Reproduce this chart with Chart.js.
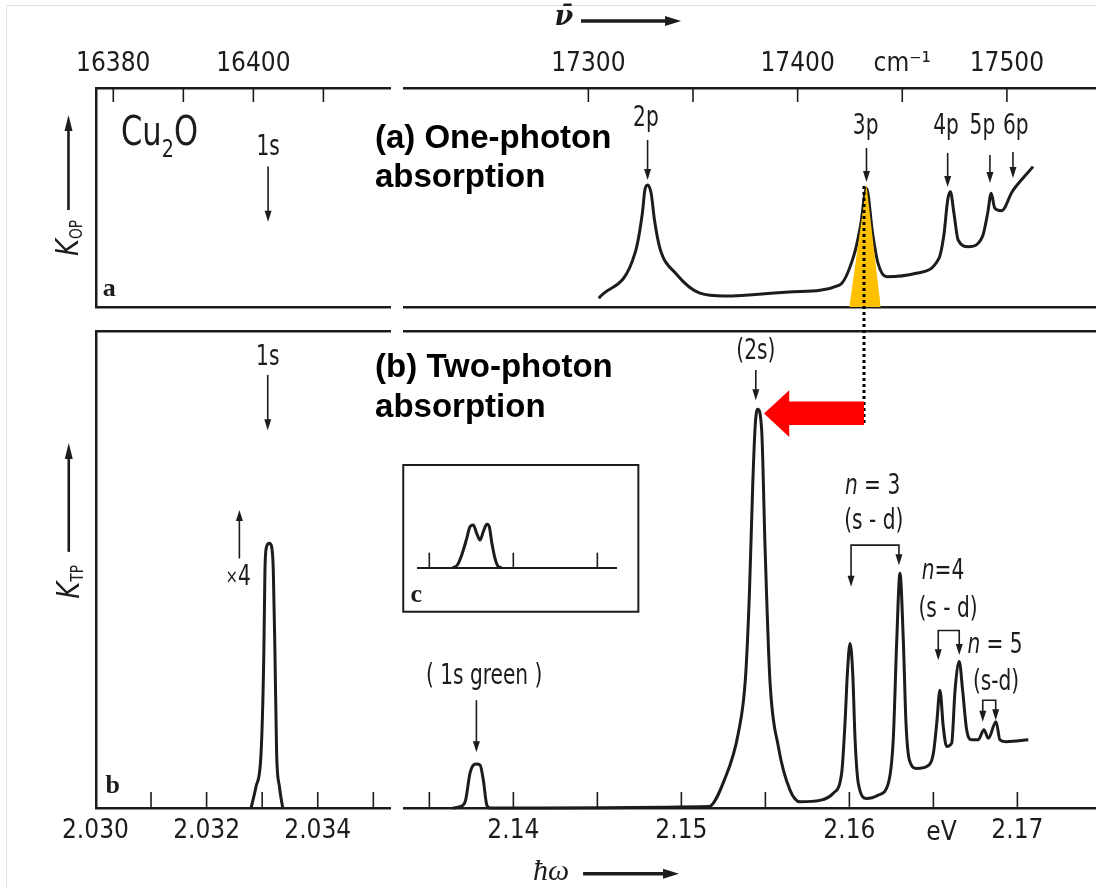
<!DOCTYPE html>
<html>
<head>
<meta charset="utf-8">
<script src="https://cdn.jsdelivr.net/npm/chart.js@4/dist/chart.umd.min.js"></script>
<style>
  html, body { margin: 0; padding: 0; background: #fff; }
  #fig { position: relative; width: 1097px; height: 888px; overflow: hidden; }
  #fig canvas { position: absolute; left: 0; top: 0; }
  #edge { position: absolute; left: 6px; top: 5px; right: 0; bottom: 0;
          border-top: 1px solid #e2e2e2; border-left: 1px solid #e2e2e2; }
</style>
</head>
<body>
<div id="fig">
  <div id="edge"></div>
  <canvas id="aLeft" width="1097" height="888"></canvas>
  <canvas id="aRight" width="1097" height="888"></canvas>
  <canvas id="bLeft" width="1097" height="888"></canvas>
  <canvas id="inset" width="1097" height="888"></canvas>
  <canvas id="bRight" width="1097" height="888"></canvas>
</div>
<script>
'use strict';

// ---- data ----

// (a) one-photon absorption, wavenumber in cm-1, K_OP in arbitrary units
const opWavenumber = [17305.0, 17322.5, 17325.8, 17327.0, 17328.3, 17330.0, 17331.6, 17334.2, 17341.7,
  17353.3, 17365.0, 17398.3, 17420.0, 17426.7, 17430.0, 17432.9, 17435.8, 17438.4, 17442.5, 17456.7,
  17467.5, 17470.0, 17471.7, 17473.0, 17474.7, 17476.7, 17481.6, 17488.3, 17490.8, 17492.5, 17494.2,
  17497.5, 17502.5, 17504.2, 17512.5];
const opAbsorption = [4.0, 25.3, 42.8, 53.4, 55.7, 51.9, 39.7, 26.8, 15.4,
  6.3, 5.0, 7.0, 10.0, 23.0, 36.7, 54.2, 33.7, 20.0, 13.8, 15.4,
  22.2, 33.7, 48.9, 52.6, 42.8, 30.6, 27.5, 32.1, 42.8, 51.9, 45.1,
  44.0, 52.6, 54.9, 64.1];

// yellow marker under the 3p line
const mark3pWavenumber = [17424.7, 17432.9, 17439.7];
const mark3pHeight = [0, 55.7, 0];

// (b) two-photon absorption, photon energy in eV, K_TP in arbitrary units
const tp1sEnergy = [2.03280, 2.03289, 2.03298, 2.03303, 2.03305, 2.03308, 2.03313, 2.03317, 2.03320,
  2.03323, 2.03326, 2.03331, 2.03337];
const tp1sAbsorption = [0, 4.5, 11.5, 32.4, 49.9, 54.8, 55.5, 54.8, 49.9, 32.4, 11.5, 4.5, 0];

const tpEnergy = [2.13640, 2.13683, 2.13713, 2.13742, 2.13762, 2.13782, 2.13802, 2.13821, 2.13842, 2.13861,
  2.15163, 2.15256, 2.15339, 2.15381, 2.15405, 2.15425, 2.15440, 2.15454, 2.15478, 2.15498, 2.15527, 2.15577,
  2.15646, 2.15706, 2.15825, 2.15904, 2.15954, 2.15974, 2.15988, 2.16004, 2.16020, 2.16034, 2.16053,
  2.16103, 2.16172, 2.16232, 2.16261, 2.16282, 2.16301, 2.16321, 2.16337, 2.16357, 2.16401, 2.16460,
  2.16500, 2.16520, 2.16539, 2.16559, 2.16579, 2.16609, 2.16629, 2.16654, 2.16674, 2.16698, 2.16728,
  2.16767, 2.16801, 2.16827, 2.16873, 2.16896, 2.16936, 2.17065];
const tpAbsorption = [0, 0.3, 1.3, 7.3, 9.0, 9.2, 9.0, 5.9, 0.6, 0,
  0.3, 5.9, 15.7, 27.0, 45.0, 68.0, 80.5, 83.6, 79.2, 54.8, 26.8, 12.9,
  3.8, 1.3, 1.6, 3.1, 7.3, 17.8, 28.2, 34.5, 28.2, 14.3, 5.2,
  2.0, 2.7, 5.2, 14.3, 35.2, 49.2, 35.2, 17.8, 10.1, 8.3, 8.7,
  11.5, 17.8, 24.7, 17.0, 12.9, 13.6, 24.7, 30.7, 24.7, 16.4, 14.3,
  14.3, 16.4, 14.6, 18.1, 14.3, 13.9, 14.3];

// (c) inset, split 1s green line
const insetEnergy = [2.13640, 2.13667, 2.13693, 2.13723, 2.13742, 2.13762, 2.13782, 2.13802, 2.13821,
  2.13842, 2.13857, 2.13871, 2.13891, 2.13911, 2.13930];
const insetAbsorption = [0, 2.9, 13.7, 31.7, 44.2, 46.1, 37.1, 29.9, 38.8, 46.8, 44.2, 28.0, 10.1, 1.1, 0];

// axis ticks and labels
const wnLeftTicks = [16380, 16390, 16400, 16410];
const wnLeftLabels = ['16380', '', '16400', ''];
const wnRightTicks = [17300, 17350, 17400, 17450, 17500];
const wnRightLabels = ['17300', '', '17400', 'cm\u207B\u00B9', '17500'];
const evLeftTicks = [2.030, 2.031, 2.032, 2.033, 2.034, 2.035];
const evLeftLabels = ['2.030', '', '2.032', '', '2.034', ''];
const evRightTicks = [2.135, 2.140, 2.145, 2.150, 2.155, 2.160, 2.165, 2.170];
const evRightLabels = ['', '2.14', '', '2.15', '', '2.16', '', '2.17'];
const insetTicks = [2.135, 2.140, 2.145];

// axis ranges of the broken axes
const wnLeftRange = [16377.53, 16419.51];
const wnRightRange = [17211.9, 17542.1];
const evLeftRange = [2.03001, 2.03530];
const evRightRange = [2.13349, 2.17462];
const insetRange = [2.13431, 2.14611];

// ---- layout and style ----
const W = 1097, H = 888;
const INK = '#1c1c1c';
const NARROW = "'DejaVu Sans Condensed', 'Liberation Sans Narrow', 'Arial Narrow', sans-serif";
const ARIAL = "'Liberation Sans', Arial, sans-serif";
const SERIF = "'Liberation Serif', 'DejaVu Serif', serif";
const LBL = '28px ' + NARROW;
const SQ = 0.8; // squeeze for the narrow label lettering
const HEAD = 'bold 33px ' + ARIAL;
const LETTER = 'bold 26px ' + SERIF;
const TOP_H = 46, BOT_H = 50;

function xy(xs, ys) {
  return xs.map((x, i) => ({ x, y: ys[i] }));
}

function frameAxis(position, range, width) {
  return {
    type: 'linear', position, min: range[0], max: range[1],
    ticks: { display: false },
    grid: { drawOnChartArea: false, drawTicks: false },
    border: { color: INK, width: width || 2.5 },
    afterFit: (s) => { if (s.isHorizontal()) s.height = 0; else s.width = 0; }
  };
}

function tickAxis(position, range, values, labels, height) {
  return {
    type: 'linear', position, min: range[0], max: range[1],
    afterBuildTicks: (s) => { s.ticks = values.map((v) => ({ value: v })); },
    afterFit: (s) => { s.height = height; },
    ticks: {
      autoSkip: false, maxRotation: 0, minRotation: 0, padding: 8, color: INK,
      font: { family: NARROW, size: 26 },
      callback: (v, i) => labels[i]
    },
    grid: { drawOnChartArea: false, drawTicks: false },
    border: { color: INK, width: 2.5 }
  };
}

function curve(xs, ys, axisX, width) {
  return {
    data: xy(xs, ys), xAxisID: axisX, yAxisID: 'y',
    borderColor: INK, borderWidth: width || 3, pointRadius: 0, fill: false,
    cubicInterpolationMode: 'monotone', clip: false
  };
}

// ---- annotation drawing (all positions are in data units of the chart) ----
function head(ctx, x, y, ang, len, hw) {
  ctx.beginPath();
  ctx.moveTo(x, y);
  ctx.lineTo(x - len * Math.cos(ang) + hw * Math.sin(ang), y - len * Math.sin(ang) - hw * Math.cos(ang));
  ctx.lineTo(x - len * Math.cos(ang) - hw * Math.sin(ang), y - len * Math.sin(ang) + hw * Math.cos(ang));
  ctx.closePath();
  ctx.fill();
}

const painters = {
  text(ctx, n, px, py) {
    ctx.font = n.font || LBL;
    ctx.fillStyle = n.color || INK;
    ctx.textAlign = n.align || 'center';
    ctx.textBaseline = n.base || 'middle';
    ctx.save();
    ctx.translate(px(n.x), py(n.y));
    ctx.scale(n.sq || 1, 1);
    ctx.fillText(n.s, 0, 0);
    ctx.restore();
  },
  rich(ctx, n, px, py) {
    ctx.fillStyle = INK;
    ctx.textAlign = 'left';
    ctx.textBaseline = 'middle';
    let total = 0;
    const widths = n.runs.map((r) => { ctx.font = r.f; const w = ctx.measureText(r.s).width; total += w; return w; });
    ctx.save();
    ctx.translate(px(n.x), py(n.y));
    if (n.rot) ctx.rotate(n.rot);
    ctx.scale(n.sq || 1, 1);
    let x = n.align === 'left' ? 0 : -total / 2;
    n.runs.forEach((r, i) => { ctx.font = r.f; ctx.fillText(r.s, x, r.dy || 0); x += widths[i]; });
    ctx.restore();
  },
  arrow(ctx, n, px, py) {
    const x1 = px(n.x1), y1 = py(n.y1), x2 = px(n.x2), y2 = py(n.y2);
    const len = n.len || 11, hw = n.hw || 3.5;
    const ang = Math.atan2(y2 - y1, x2 - x1);
    ctx.strokeStyle = INK;
    ctx.fillStyle = INK;
    ctx.lineWidth = n.lw || 1.6;
    ctx.beginPath();
    ctx.moveTo(x1, y1);
    ctx.lineTo(x2 - len * 0.7 * Math.cos(ang), y2 - len * 0.7 * Math.sin(ang));
    ctx.stroke();
    head(ctx, x2, y2, ang, len, hw);
  },
  bracket(ctx, n, px, py) {
    const x1 = px(n.x1), x2 = px(n.x2), top = py(n.top), t1 = py(n.tip1), t2 = py(n.tip2);
    ctx.strokeStyle = INK;
    ctx.fillStyle = INK;
    ctx.lineWidth = 1.6;
    ctx.beginPath();
    ctx.moveTo(x1, t1 - 8);
    ctx.lineTo(x1, top);
    ctx.lineTo(x2, top);
    ctx.lineTo(x2, t2 - 8);
    ctx.stroke();
    head(ctx, x1, t1, Math.PI / 2, 11, 3.5);
    head(ctx, x2, t2, Math.PI / 2, 11, 3.5);
  },
  dots(ctx, n, px, py) {
    ctx.strokeStyle = '#000';
    ctx.lineWidth = 3;
    ctx.setLineDash([3, 3]);
    ctx.beginPath();
    ctx.moveTo(px(n.x), py(n.y1));
    ctx.lineTo(px(n.x), py(n.y2));
    ctx.stroke();
    ctx.setLineDash([]);
  },
  poly(ctx, n, px, py) {
    ctx.fillStyle = n.fill;
    ctx.beginPath();
    n.pts.forEach((p, i) => { if (i) ctx.lineTo(px(p[0]), py(p[1])); else ctx.moveTo(px(p[0]), py(p[1])); });
    ctx.closePath();
    ctx.fill();
  },
  rect(ctx, n, px, py) {
    ctx.strokeStyle = INK;
    ctx.lineWidth = n.lw || 2;
    ctx.strokeRect(px(n.x1), py(n.y1), px(n.x2) - px(n.x1), py(n.y2) - py(n.y1));
  },
  ticks(ctx, n, px, py, chart) {
    const s = chart.scales[n.id], a = chart.chartArea;
    const top = s.options.position === 'top';
    const y0 = top ? a.top : a.bottom, dir = top ? 1 : -1;
    ctx.strokeStyle = INK;
    ctx.lineWidth = 1.6;
    n.values.forEach((v) => {
      if ((n.skip || []).includes(v)) return;
      const x = s.getPixelForValue(v);
      ctx.beginPath();
      ctx.moveTo(x, y0);
      ctx.lineTo(x, y0 + dir * n.len);
      ctx.stroke();
    });
  }
};

function notesPlugin(items, xId) {
  return {
    id: 'notes',
    afterDraw(chart) {
      const ctx = chart.ctx, sx = chart.scales[xId], sy = chart.scales.y;
      const px = (v) => sx.getPixelForValue(v), py = (v) => sy.getPixelForValue(v);
      ctx.save();
      items.forEach((n) => painters[n.t](ctx, n, px, py, chart));
      ctx.restore();
    }
  };
}

// area = [left, right, top, bottom] of the plotting box in page pixels
function build(id, area, topH, botH, scales, datasets, notes, xId) {
  return new Chart(document.getElementById(id), {
    type: 'line',
    data: { datasets },
    options: {
      responsive: false, animation: false, devicePixelRatio: 1, events: [],
      layout: {
        autoPadding: false,
        padding: { left: area[0], right: W - area[1], top: area[2] - topH, bottom: H - area[3] - botH }
      },
      plugins: { legend: { display: false }, tooltip: { enabled: false } },
      scales
    },
    plugins: [notesPlugin(notes, xId)]
  });
}

const hidden = { display: false, min: 0, max: 100 };
const nLabel = (v) => [{ s: 'n', f: 'italic ' + LBL }, { s: v, f: LBL }];

// (a) left part: only the forbidden 1s position
build('aLeft', [96, 390, 88, 307], TOP_H, 0, {
  xt: tickAxis('top', wnLeftRange, wnLeftTicks, wnLeftLabels, TOP_H),
  xb: frameAxis('bottom', wnLeftRange),
  y: frameAxis('left', [0, 100])
}, [], [
  { t: 'ticks', id: 'xt', values: wnLeftTicks, len: 14 },
  { t: 'rich', x: 16381.1, y: 78.8, align: 'left', sq: 0.85, runs: [
    { s: 'Cu', f: '40px ' + NARROW }, { s: '2', f: '25px ' + NARROW, dy: 16 }, { s: 'O', f: '40px ' + NARROW }] },
  { t: 'text', x: 16402.1, y: 72.6, s: '1s', sq: SQ },
  { t: 'arrow', x1: 16402.1, y1: 64.1, x2: 16402.1, y2: 38.9 },
  { t: 'text', x: 16378.5, y: 8.2, s: 'a', font: LETTER, align: 'left' },
  { t: 'rich', x: 16373.8, y: 31.5, rot: -Math.PI / 2, sq: 0.9, runs: [
    { s: 'K', f: 'italic 32px ' + NARROW }, { s: 'OP', f: '17px ' + NARROW, dy: 8 }] },
  { t: 'arrow', x1: 16373.6, y1: 44.3, x2: 16373.6, y2: 87.7, lw: 2.6, len: 16, hw: 4 }
], 'xt');

// (a) right part: 2p ... 6p series
build('aRight', [404, 1095, 88, 307], TOP_H, 0, {
  xt: tickAxis('top', wnRightRange, wnRightTicks, wnRightLabels, TOP_H),
  xb: frameAxis('bottom', wnRightRange),
  y: hidden
}, [
  { data: xy(mark3pWavenumber, mark3pHeight), xAxisID: 'xt', yAxisID: 'y', borderWidth: 0,
    backgroundColor: '#ffc000', fill: 'origin', pointRadius: 0, tension: 0, clip: false },
  curve(opWavenumber, opAbsorption, 'xt', 3)
], [
  { t: 'ticks', id: 'xt', values: wnRightTicks, len: 14 },
  { t: 'text', x: 17198, y: 72.6, s: '(a) One-photon', font: HEAD, align: 'left', base: 'alphabetic', color: '#000' },
  { t: 'text', x: 17198, y: 54.8, s: 'absorption', font: HEAD, align: 'left', base: 'alphabetic', color: '#000' },
  { t: 'text', x: 17327.5, y: 85.8, s: '2p', sq: SQ },
  { t: 'arrow', x1: 17328.3, y1: 76.3, x2: 17328.3, y2: 58.0 },
  { t: 'text', x: 17432.5, y: 82.2, s: '3p', sq: SQ },
  { t: 'arrow', x1: 17432.9, y1: 72.6, x2: 17432.9, y2: 57.1 },
  { t: 'text', x: 17470.9, y: 82.2, s: '4p', sq: SQ },
  { t: 'arrow', x1: 17471.7, y1: 70.3, x2: 17471.7, y2: 54.8 },
  { t: 'text', x: 17488.3, y: 82.2, s: '5p', sq: SQ },
  { t: 'arrow', x1: 17491.9, y1: 69.4, x2: 17491.9, y2: 56.6 },
  { t: 'text', x: 17504.2, y: 82.2, s: '6p', sq: SQ },
  { t: 'arrow', x1: 17502.9, y1: 70.8, x2: 17502.9, y2: 58.9 },
  { t: 'text', x: 17288.3, y: 132.0, s: 'ν\u0304', font: 'italic bold 27px "DejaVu Serif", serif' },
  { t: 'arrow', x1: 17296.5, y1: 130.6, x2: 17344.3, y2: 130.6, lw: 3.5, len: 16, hw: 5 }
], 'xt');

// (b) left part: 1s quadrupole line (x4)
build('bLeft', [96, 390, 331, 808], 0, BOT_H, {
  x: tickAxis('bottom', evLeftRange, evLeftTicks, evLeftLabels, BOT_H),
  xt: frameAxis('top', evLeftRange),
  y: frameAxis('left', [0, 100])
}, [curve(tp1sEnergy, tp1sAbsorption, 'x', 3)], [
  { t: 'ticks', id: 'x', values: evLeftTicks, len: 16, skip: [2.030] },
  { t: 'text', x: 2.03310, y: 94.3, s: '1s', sq: SQ },
  { t: 'arrow', x1: 2.03310, y1: 90.8, x2: 2.03310, y2: 79.2 },
  { t: 'rich', x: 2.03257, y: 48.2, sq: SQ, runs: [{ s: '×', f: '20px ' + NARROW }, { s: '4', f: LBL }] },
  { t: 'arrow', x1: 2.03259, y1: 52.3, x2: 2.03259, y2: 62.5 },
  { t: 'text', x: 2.03018, y: 4.6, s: 'b', font: LETTER, align: 'left' },
  { t: 'rich', x: 2.02956, y: 47.4, rot: -Math.PI / 2, sq: 0.9, runs: [
    { s: 'K', f: 'italic 32px ' + NARROW }, { s: 'TP', f: '17px ' + NARROW, dy: 8 }] },
  { t: 'arrow', x1: 2.02952, y1: 53.7, x2: 2.02952, y2: 76.5, lw: 2.6, len: 16, hw: 4 }
], 'x');

// (c) inset with the split 1s green line
build('inset', [417.7, 616, 475, 567.7], 0, 0, {
  x: frameAxis('bottom', insetRange, 2),
  y: hidden
}, [curve(insetEnergy, insetAbsorption, 'x', 3)], [
  { t: 'rect', x1: 2.13345, y1: 110.8, x2: 2.14744, y2: -47.5, lw: 2 },
  { t: 'ticks', id: 'x', values: insetTicks, len: 15 },
  { t: 'text', x: 2.13388, y: -29.4, s: 'c', font: LETTER, align: 'left' }
], 'x');

// (b) right part: 1s green, 2s and the n = 3, 4, 5 s-d pairs
build('bRight', [404, 1095, 331, 808], 0, BOT_H, {
  x: tickAxis('bottom', evRightRange, evRightTicks, evRightLabels, BOT_H),
  xt: frameAxis('top', evRightRange),
  y: hidden
}, [curve(tpEnergy, tpAbsorption, 'x', 3)], [
  { t: 'ticks', id: 'x', values: evRightTicks, len: 16 },
  { t: 'text', x: 2.16548, y: -5.2, s: 'eV', font: '26px ' + NARROW },
  { t: 'text', x: 2.14224, y: -13.4, s: 'ħω', font: 'italic 30px ' + SERIF },
  { t: 'arrow', x1: 2.14415, y1: -13.8, x2: 2.14986, y2: -13.8, lw: 3.5, len: 16, hw: 5 },
  { t: 'text', x: 2.13177, y: 90.4, s: '(b) Two-photon', font: HEAD, align: 'left', base: 'alphabetic', color: '#000' },
  { t: 'text', x: 2.13177, y: 82.0, s: 'absorption', font: HEAD, align: 'left', base: 'alphabetic', color: '#000' },
  { t: 'text', x: 2.13826, y: 27.5, s: '( 1s green )', sq: SQ },
  { t: 'arrow', x1: 2.13780, y1: 22.6, x2: 2.13780, y2: 11.7 },
  { t: 'text', x: 2.15443, y: 95.6, s: '(2s)', sq: SQ },
  { t: 'arrow', x1: 2.15443, y1: 91.8, x2: 2.15443, y2: 85.5 },
  { t: 'rich', x: 2.16138, y: 67.3, sq: SQ, runs: nLabel(' = 3') },
  { t: 'text', x: 2.16145, y: 60.0, s: '(s - d)', sq: SQ },
  { t: 'bracket', x1: 2.16010, x2: 2.16295, top: 55.1, tip1: 46.4, tip2: 50.9 },
  { t: 'rich', x: 2.16557, y: 49.5, sq: SQ, runs: nLabel('=4') },
  { t: 'text', x: 2.16587, y: 41.5, s: '(s - d)', sq: SQ },
  { t: 'bracket', x1: 2.16529, x2: 2.16654, top: 37.2, tip1: 31.0, tip2: 32.1 },
  { t: 'rich', x: 2.16867, y: 34.0, sq: SQ, runs: nLabel(' = 5') },
  { t: 'text', x: 2.16873, y: 26.2, s: '(s-d)', sq: SQ },
  { t: 'bracket', x1: 2.16794, x2: 2.16871, top: 22.6, tip1: 18.1, tip2: 18.4 },
  { t: 'dots', x: 2.16087, y1: 130.4, y2: 80.3 },
  { t: 'poly', fill: '#ff0000', pts: [[2.16087, 85.2], [2.15642, 85.2], [2.15642, 87.6], [2.15492, 82.7],
    [2.15642, 77.8], [2.15642, 80.3], [2.16087, 80.3]] }
], 'x');
</script>
</body>
</html>
